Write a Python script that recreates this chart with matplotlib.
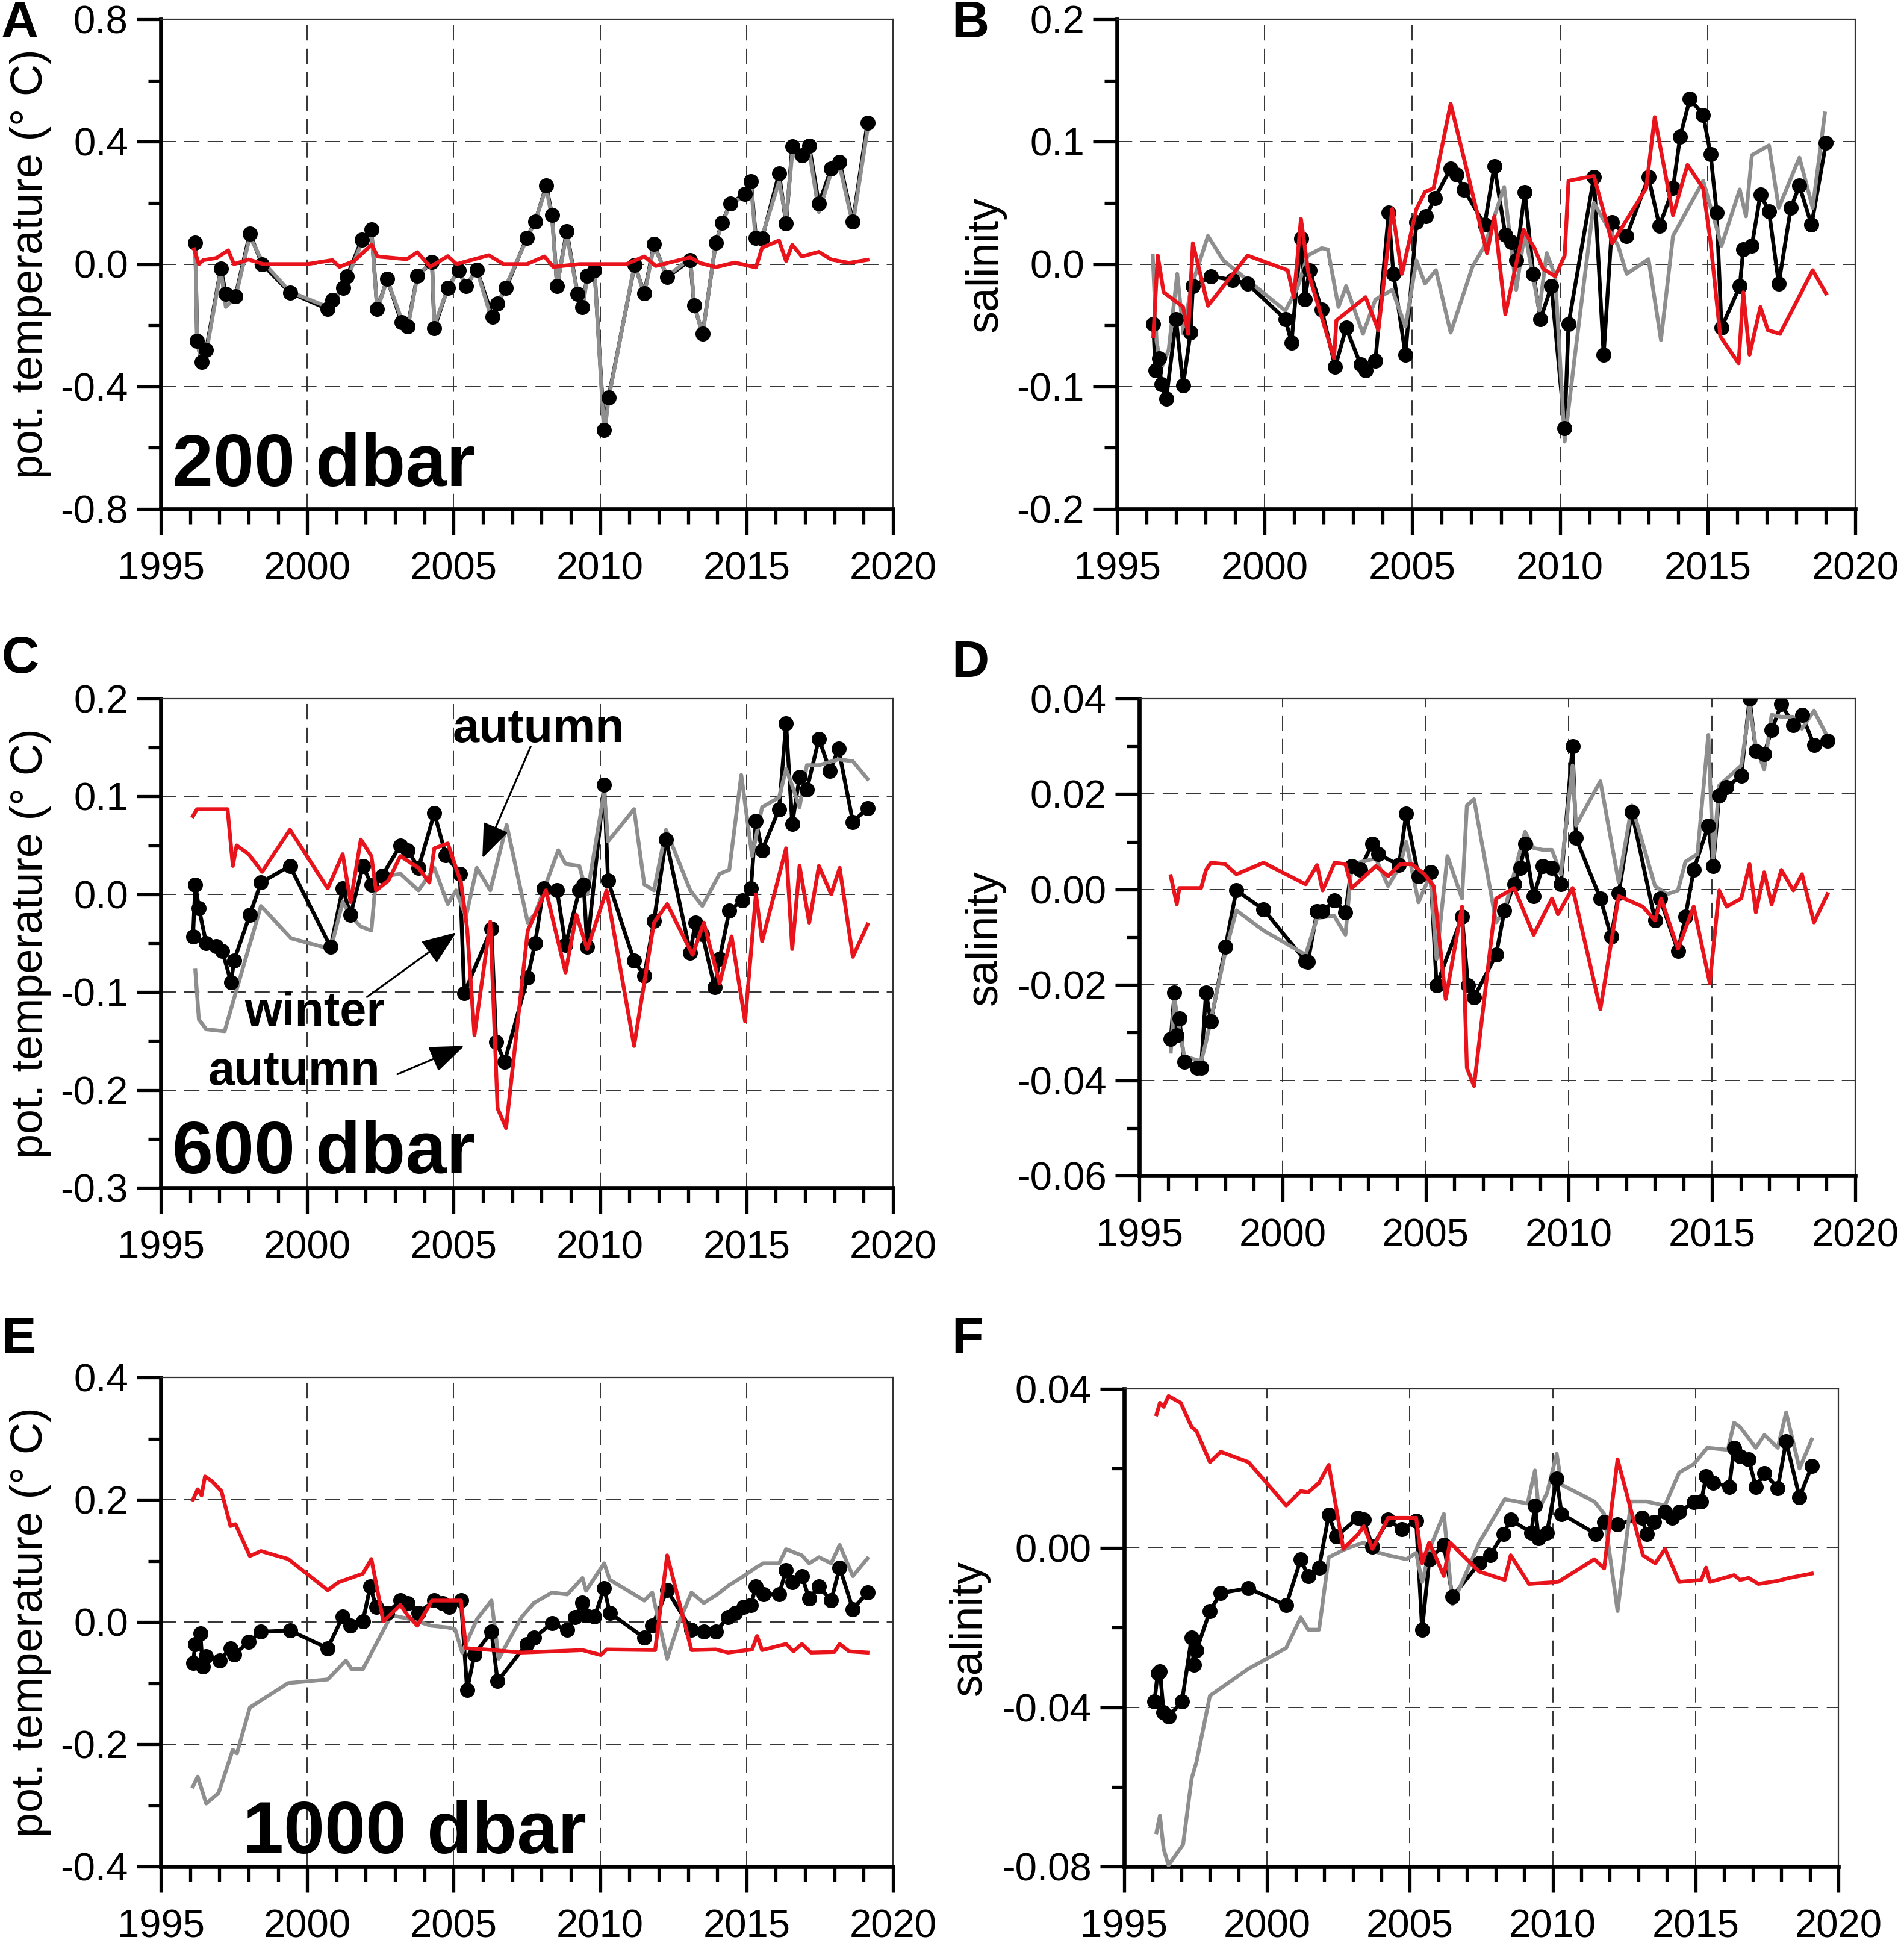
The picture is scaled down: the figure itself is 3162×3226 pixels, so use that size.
import matplotlib
matplotlib.use("Agg")
import matplotlib.pyplot as plt
import matplotlib.ticker as ticker

plt.rcParams['font.family'] = ['Liberation Sans', 'DejaVu Sans']

# ---------------- panel A : 200 dbar temperature ----------------
a_bk_x = [1996.18,1996.24,1996.39,1996.55,1997.05,1997.22,1997.55,1998.04,1998.46,1999.41,2000.70,2000.86,2001.23,2001.36,2001.86,2002.19,2002.39,2002.73,2003.22,2003.43,2003.76,2004.26,2004.34,2004.80,2005.17,2005.42,2005.79,2006.33,2006.50,2006.79,2007.49,2007.78,2008.16,2008.36,2008.53,2008.86,2009.23,2009.40,2009.56,2009.81,2010.14,2010.29,2011.18,2011.51,2011.84,2012.29,2013.08,2013.21,2013.50,2013.95,2014.16,2014.45,2014.95,2015.15,2015.32,2015.53,2016.11,2016.35,2016.56,2016.89,2017.14,2017.47,2017.89,2018.18,2018.63,2019.13]
a_bk_y = [0.07,-0.25,-0.32,-0.28,-0.015,-0.097,-0.105,0.10,0.00,-0.093,-0.147,-0.118,-0.078,-0.04,0.079,0.114,-0.147,-0.049,-0.19,-0.203,-0.038,0.006,-0.21,-0.078,-0.021,-0.072,-0.018,-0.172,-0.128,-0.078,0.085,0.138,0.256,0.16,-0.072,0.108,-0.097,-0.14,-0.038,-0.021,-0.542,-0.435,-0.003,-0.095,0.065,-0.043,0.013,-0.134,-0.228,0.07,0.135,0.198,0.23,0.271,0.085,0.083,0.296,0.133,0.384,0.355,0.386,0.198,0.311,0.334,0.139,0.462]
a_gr_x = a_bk_x
a_gr_y = [0.06,-0.26,-0.31,-0.29,-0.02,-0.14,-0.11,0.09,0.01,-0.09,-0.14,-0.12,-0.08,-0.05,0.07,0.11,-0.15,-0.05,-0.18,-0.21,-0.04,0.01,-0.2,-0.08,-0.02,-0.07,-0.02,-0.19,-0.13,-0.07,0.08,0.14,0.25,0.15,-0.07,0.1,-0.1,-0.15,-0.04,-0.02,-0.56,-0.44,0.0,-0.1,0.06,-0.04,0.02,-0.13,-0.23,0.07,0.13,0.2,0.22,0.26,0.07,0.09,0.27,0.15,0.36,0.34,0.37,0.17,0.3,0.32,0.13,0.44]
a_rd_x = [1996.14,1996.3,1996.45,1996.9,1997.3,1997.5,1998.0,1998.5,1999.4,2000.0,2000.86,2001.1,2001.6,2002.2,2002.4,2003.4,2003.76,2004.2,2004.8,2005.1,2006.2,2006.7,2007.5,2008.1,2008.4,2009.3,2010.0,2010.9,2011.51,2011.9,2013.08,2013.4,2013.95,2014.6,2015.32,2015.53,2016.11,2016.35,2016.56,2016.89,2017.47,2017.89,2018.5,2019.13]
a_rd_y = [0.048,0.0,0.013,0.02,0.045,0.0,0.015,0.0,0.0,0.0,0.013,-0.009,0.01,0.064,0.025,0.016,0.039,-0.009,0.026,0.0,0.029,0.0,0.0,0.025,-0.009,0.0,0.0,0.0,0.025,-0.006,0.022,0.004,-0.01,0.005,-0.011,0.054,0.077,0.010,0.063,0.025,0.04,0.015,0.004,0.014]

# ---------------- panel B : 200 dbar salinity ----------------
b_bk_x = [1996.23,1996.30,1996.42,1996.50,1996.67,1997.00,1997.24,1997.49,1997.57,1998.19,1998.91,1999.42,2000.70,2000.91,2001.23,2001.36,2001.52,2001.93,2002.39,2002.76,2003.25,2003.42,2003.75,2004.20,2004.36,2004.77,2005.14,2005.47,2005.76,2006.30,2006.50,2006.75,2007.45,2007.78,2008.15,2008.36,2008.52,2008.81,2009.10,2009.34,2009.71,2010.16,2010.29,2011.15,2011.48,2011.77,2012.26,2013.00,2013.37,2013.83,2014.07,2014.40,2014.85,2015.10,2015.31,2015.47,2016.09,2016.21,2016.50,2016.79,2017.08,2017.41,2017.82,2018.11,2018.52,2019.01]
b_bk_y = [-0.049,-0.087,-0.077,-0.098,-0.110,-0.045,-0.099,-0.056,-0.018,-0.010,-0.013,-0.016,-0.045,-0.064,0.021,-0.029,-0.005,-0.037,-0.084,-0.052,-0.082,-0.087,-0.079,0.042,-0.008,-0.074,0.034,0.039,0.054,0.078,0.073,0.061,0.032,0.080,0.024,0.018,0.003,0.059,-0.008,-0.045,-0.018,-0.134,-0.049,0.071,-0.074,0.034,0.023,0.071,0.031,0.062,0.104,0.135,0.122,0.090,0.042,-0.052,-0.018,0.012,0.015,0.057,0.043,-0.016,0.046,0.064,0.032,0.099]
b_gr_x = [1996.21,1996.34,1996.50,1996.75,1997.04,1997.25,1997.5,1998.08,1998.6,1999.42,2000.70,2001.1,2001.46,2001.93,2002.14,2002.5,2002.76,2003.33,2003.75,2004.32,2004.77,2005.14,2005.43,2005.8,2006.3,2007.04,2007.45,2008.11,2008.52,2008.81,2009.3,2009.55,2009.84,2010.16,2010.5,2011.15,2011.97,2012.26,2013.0,2013.42,2013.83,2014.85,2015.31,2015.47,2016.09,2016.3,2016.5,2017.08,2017.41,2018.11,2018.56,2018.97]
b_gr_y = [0.007,-0.063,-0.085,-0.07,-0.008,-0.057,-0.02,0.023,0.003,-0.013,-0.038,-0.02,0.007,0.013,0.012,-0.035,-0.018,-0.057,-0.029,-0.021,-0.051,0.003,-0.016,-0.005,-0.056,-0.002,0.015,0.063,-0.021,0.026,-0.038,0.009,-0.010,-0.145,-0.076,0.05,0.015,-0.008,0.004,-0.062,0.023,0.068,0.029,0.015,0.061,0.039,0.089,0.097,0.046,0.087,0.046,0.123]
b_rd_x = [1996.23,1996.38,1996.58,1997.24,1997.41,1997.57,1998.08,1999.42,2000.78,2000.99,2001.23,2001.48,2002.35,2002.43,2003.42,2003.85,2004.32,2004.65,2005.14,2005.43,2005.72,2006.30,2007.53,2007.78,2008.15,2008.77,2009.14,2009.43,2009.84,2010.16,2010.29,2011.15,2011.77,2012.92,2013.21,2013.83,2014.32,2014.85,2015.10,2015.43,2016.05,2016.21,2016.42,2016.79,2017.04,2017.45,2018.56,2019.01]
b_rd_y = [-0.059,0.007,-0.023,-0.035,-0.057,0.017,-0.034,0.007,-0.005,-0.027,0.037,-0.007,-0.077,-0.046,-0.027,-0.054,0.045,-0.008,0.045,0.059,0.062,0.131,0.009,0.039,-0.041,0.028,0.013,-0.004,-0.010,0.007,0.068,0.072,0.017,0.062,0.120,0.040,0.081,0.062,0.018,-0.059,-0.081,-0.023,-0.074,-0.035,-0.054,-0.057,-0.005,-0.024]

# ---------------- panel C : 600 dbar temperature ----------------
c_bk_x = [1996.10,1996.18,1996.30,1996.55,1996.90,1997.10,1997.40,1997.50,1998.04,1998.42,1999.41,2000.80,2001.21,2001.48,2001.90,2002.19,2002.56,2003.18,2003.43,2003.80,2004.34,2004.73,2005.21,2005.36,2006.29,2006.45,2006.74,2007.53,2007.78,2008.07,2008.53,2008.82,2009.29,2009.44,2009.56,2010.14,2010.27,2011.16,2011.51,2011.84,2012.25,2013.08,2013.25,2013.49,2013.91,2014.08,2014.41,2014.86,2015.15,2015.32,2015.53,2016.11,2016.35,2016.56,2016.81,2017.06,2017.47,2017.85,2018.14,2018.63,2019.13]
c_bk_y = [-0.043,0.010,-0.014,-0.050,-0.053,-0.058,-0.090,-0.068,-0.021,0.012,0.029,-0.054,0.006,-0.021,0.029,0.010,0.019,0.050,0.045,0.027,0.083,0.040,0.021,-0.101,-0.035,-0.151,-0.171,-0.085,-0.050,0.006,0.004,-0.052,0.004,0.010,-0.054,0.112,0.014,-0.068,-0.083,-0.027,0.056,-0.060,-0.029,-0.041,-0.095,-0.066,-0.017,-0.006,0.006,0.075,0.045,0.087,0.175,0.072,0.120,0.107,0.159,0.126,0.149,0.074,0.088]
c_gr_x = [1996.18,1996.30,1996.55,1997.18,1997.42,1998.42,1999.45,2000.80,2001.21,2001.48,2001.83,2002.19,2002.35,2003.18,2003.80,2004.34,2004.80,2005.08,2005.42,2005.79,2006.25,2006.81,2007.53,2007.78,2008.57,2008.82,2009.29,2009.56,2010.14,2010.27,2011.16,2011.51,2011.84,2012.25,2013.08,2013.49,2014.08,2014.41,2014.82,2015.19,2015.53,2016.11,2016.35,2016.56,2016.81,2017.06,2017.47,2018.14,2018.63,2019.13]
c_gr_y = [-0.078,-0.128,-0.138,-0.140,-0.115,-0.012,-0.045,-0.056,-0.008,-0.022,-0.033,-0.037,0.017,0.021,0.004,0.027,-0.010,0.004,-0.023,0.027,0.004,0.071,-0.029,-0.020,0.045,0.031,0.029,0.000,0.105,0.054,0.087,0.010,0.004,0.066,0.004,-0.012,0.021,0.025,0.122,0.039,0.089,0.099,0.128,0.111,0.089,0.132,0.132,0.138,0.136,0.118]
c_rd_x = [1996.10,1996.24,1997.28,1997.46,1997.59,1998.00,1998.46,1999.41,2000.70,2001.21,2001.48,2001.83,2002.19,2002.35,2002.77,2003.18,2003.80,2004.17,2004.34,2004.80,2005.25,2005.46,2005.71,2006.25,2006.50,2006.79,2007.53,2008.15,2008.82,2009.19,2009.56,2010.22,2011.16,2011.84,2012.29,2013.16,2013.54,2014.08,2014.49,2014.95,2015.32,2015.53,2016.35,2016.56,2016.81,2017.14,2017.47,2017.89,2018.18,2018.63,2019.13]
c_rd_y = [0.080,0.087,0.087,0.029,0.050,0.041,0.023,0.066,0.006,0.041,-0.008,0.056,0.039,0.004,0.014,0.039,0.027,0.012,0.047,0.052,0.012,-0.035,-0.144,-0.028,-0.219,-0.239,-0.037,0.004,-0.080,-0.021,-0.056,0.004,-0.155,-0.029,-0.010,-0.062,-0.029,-0.091,-0.043,-0.130,0.000,-0.048,0.047,-0.056,0.029,-0.029,0.029,0.000,0.027,-0.064,-0.031]

# ---------------- panel D : 600 dbar salinity ----------------
d_bk_x = [1996.10,1996.23,1996.31,1996.40,1996.57,1997.01,1997.16,1997.33,1997.50,1998.01,1998.39,1999.34,2000.81,2000.89,2001.21,2001.40,2001.82,2002.20,2002.42,2002.71,2003.14,2003.35,2004.07,2004.32,2004.75,2005.17,2005.38,2006.27,2006.48,2006.69,2007.46,2007.75,2008.09,2008.30,2008.47,2008.77,2009.09,2009.41,2009.72,2010.13,2010.25,2011.10,2011.48,2011.74,2012.20,2013.01,2013.18,2013.81,2014.07,2014.36,2014.87,2015.04,2015.25,2015.51,2016.02,2016.31,2016.53,2016.82,2017.08,2017.42,2017.84,2018.14,2018.56,2019.03]
d_bk_y = [-0.0313,-0.0216,-0.0306,-0.0271,-0.0361,-0.0374,-0.0374,-0.0216,-0.0277,-0.0120,-0.0002,-0.0042,-0.0150,-0.0152,-0.0046,-0.0046,-0.0023,-0.0048,0.0049,0.0042,0.0096,0.0074,0.0051,0.0159,0.0028,0.0036,-0.0201,-0.0057,-0.0201,-0.0226,-0.0137,-0.0044,0.0011,0.0045,0.0096,-0.0014,0.0049,0.0045,0.0011,0.0300,0.0108,-0.0019,-0.0099,-0.0008,0.0163,-0.0065,-0.0019,-0.0129,-0.0057,0.0041,0.0134,0.0049,0.0197,0.0214,0.0239,0.0400,0.0290,0.0284,0.0334,0.0389,0.0345,0.0366,0.0303,0.0311]
d_gr_x = [1996.10,1996.23,1996.57,1997.16,1997.33,1998.01,1998.39,1999.34,2000.81,2001.21,2001.80,2002.20,2002.42,2003.26,2003.69,2004.11,2004.32,2004.75,2005.17,2005.38,2005.76,2006.27,2006.44,2006.69,2007.46,2007.75,2008.47,2008.77,2009.09,2009.41,2009.72,2010.13,2010.25,2011.10,2011.74,2012.20,2013.01,2013.43,2013.81,2014.07,2014.49,2014.87,2015.04,2015.25,2016.02,2016.31,2016.53,2016.82,2017.08,2017.42,2017.84,2018.14,2018.56,2019.03]
d_gr_y = [-0.034,-0.023,-0.035,-0.036,-0.032,-0.013,-0.0044,-0.0086,-0.0137,-0.006,-0.0055,-0.0095,0.0053,0.0065,0.0007,0.005,0.010,-0.0027,0.0032,-0.0146,0.007,-0.0019,0.0176,0.0189,-0.0069,-0.0044,0.0121,0.0087,0.0083,0.0083,0.0032,0.026,0.0134,0.0227,0.0015,0.0176,0.0007,-0.001,-0.0002,0.0058,0.0074,0.0324,0.0066,0.0218,0.026,0.0383,0.030,0.0252,0.0366,0.0362,0.0362,0.0337,0.0375,0.032]
d_rd_x = [1996.10,1996.31,1996.40,1997.16,1997.33,1997.50,1998.0,1998.39,1999.34,2000.81,2001.21,2001.40,2001.82,2002.20,2002.42,2003.26,2003.69,2004.11,2004.53,2004.96,2005.28,2005.70,2006.27,2006.44,2006.69,2007.46,2008.09,2008.77,2009.41,2009.62,2010.13,2011.10,2011.74,2012.58,2013.01,2013.22,2013.81,2014.36,2014.92,2015.25,2015.51,2016.02,2016.31,2016.53,2016.82,2017.08,2017.42,2017.84,2018.14,2018.56,2019.03]
d_rd_y = [0.0028,-0.0031,0.0003,0.0003,0.0041,0.0056,0.0053,0.0032,0.0056,0.0011,0.0051,-0.0002,0.0056,0.0053,0.0003,0.0049,0.0028,0.0053,0.0053,0.0032,0.0007,-0.0230,-0.0036,-0.0374,-0.0412,-0.0019,0.0003,-0.0095,-0.0019,-0.0052,0.0003,-0.0251,-0.0014,-0.0036,-0.0065,-0.0019,-0.0124,-0.0036,-0.0196,-0.0002,-0.0036,-0.0019,0.0053,-0.0048,0.0036,-0.0031,0.0041,-0.0002,0.0032,-0.0069,-0.0010]

# ---------------- panel E : 1000 dbar temperature ----------------
e_bk_x = [1996.10,1996.18,1996.35,1996.43,1996.55,1997.01,1997.38,1997.51,1998.00,1998.42,1999.41,2000.70,2001.21,2001.48,2001.90,2002.15,2002.35,2002.73,2003.18,2003.43,2003.80,2004.34,2004.63,2004.84,2005.25,2005.46,2005.71,2006.29,2006.50,2007.49,2007.74,2008.36,2008.88,2009.15,2009.40,2009.52,2009.81,2010.14,2010.33,2011.51,2011.78,2012.29,2013.12,2013.54,2013.95,2014.37,2014.61,2014.90,2015.15,2015.32,2015.57,2016.11,2016.35,2016.56,2016.89,2017.14,2017.47,2017.89,2018.18,2018.63,2019.13]
e_bk_y = [-0.067,-0.036,-0.019,-0.073,-0.056,-0.063,-0.043,-0.053,-0.033,-0.016,-0.014,-0.043,0.009,-0.006,0.001,0.058,0.025,0.015,0.035,0.031,0.015,0.035,0.031,0.025,0.035,-0.111,-0.053,-0.016,-0.097,-0.036,-0.026,-0.002,-0.013,0.008,0.032,0.011,0.009,0.055,0.015,-0.026,-0.006,0.052,-0.013,-0.016,-0.016,0.008,0.015,0.025,0.028,0.058,0.045,0.045,0.085,0.065,0.075,0.038,0.058,0.035,0.089,0.021,0.048]
e_gr_x = [1996.10,1996.26,1996.55,1996.97,1997.46,1997.6,1998.04,1999.35,2000.70,2001.32,2001.52,2001.90,2002.87,2003.5,2004.22,2004.80,2005.05,2005.29,2005.8,2006.29,2006.54,2007.32,2007.74,2008.36,2008.88,2009.40,2009.52,2010.14,2010.33,2011.51,2011.78,2012.29,2012.7,2013.12,2013.54,2014.0,2014.4,2014.90,2015.32,2015.57,2016.11,2016.35,2016.89,2017.14,2017.47,2017.89,2018.18,2018.63,2019.13]
e_gr_y = [-0.269,-0.253,-0.297,-0.280,-0.209,-0.215,-0.140,-0.100,-0.094,-0.063,-0.077,-0.077,0.011,0.005,-0.006,-0.009,-0.012,-0.050,0.005,0.035,-0.060,0.008,0.031,0.048,0.045,0.072,0.051,0.096,0.069,0.035,0.048,-0.060,0.0,0.048,0.031,0.045,0.06,0.075,0.089,0.096,0.096,0.119,0.109,0.096,0.106,0.096,0.126,0.075,0.104]
e_rd_x = [1996.10,1996.26,1996.39,1996.51,1996.75,1997.07,1997.38,1997.55,1998.04,1998.42,1999.35,2000.70,2001.07,2001.90,2002.19,2002.60,2003.18,2003.43,2003.76,2004.26,2005.25,2005.42,2006.08,2007.32,2009.40,2010.02,2010.22,2011.88,2012.29,2013.12,2013.95,2014.37,2015.19,2015.36,2015.53,2016.35,2016.6,2016.89,2017.2,2018.0,2018.18,2018.5,2019.13]
e_rd_y = [0.200,0.217,0.207,0.238,0.230,0.214,0.157,0.160,0.108,0.116,0.103,0.052,0.065,0.079,0.103,0.001,0.028,0.011,-0.006,0.035,0.035,-0.043,-0.045,-0.050,-0.046,-0.054,-0.045,-0.046,0.109,-0.046,-0.045,-0.050,-0.045,-0.023,-0.046,-0.036,-0.048,-0.036,-0.050,-0.049,-0.036,-0.048,-0.050]

# ---------------- panel F : 1000 dbar salinity ----------------
f_bk_x = [1996.06,1996.17,1996.25,1996.38,1996.55,1997.02,1997.36,1997.44,1997.53,1998.00,1998.38,1999.35,2000.67,2001.18,2001.44,2001.82,2002.16,2002.42,2003.18,2003.39,2003.69,2004.24,2004.71,2005.22,2005.43,2005.68,2006.19,2006.49,2007.43,2007.81,2008.27,2008.53,2009.25,2009.38,2009.51,2009.80,2010.14,2010.31,2011.50,2011.80,2012.27,2013.12,2013.29,2013.54,2013.93,2014.18,2014.43,2014.94,2015.20,2015.37,2015.62,2016.18,2016.35,2016.56,2016.86,2017.11,2017.41,2017.88,2018.17,2018.64,2019.07]
f_bk_y = [-0.0386,-0.0314,-0.0309,-0.0412,-0.0423,-0.0386,-0.0225,-0.0293,-0.0257,-0.0158,-0.0113,-0.0101,-0.0144,-0.0028,-0.0070,-0.0049,0.0084,0.0029,0.0076,0.0071,0.0003,0.0071,0.0047,0.0068,-0.0205,-0.0028,0.0008,-0.0122,-0.0038,-0.0018,0.0036,0.0071,0.0039,0.0107,0.0024,0.0039,0.0175,0.0086,0.0036,0.0065,0.0060,0.0076,0.0036,0.0065,0.0091,0.0076,0.0091,0.0115,0.0117,0.0180,0.0164,0.0154,0.0252,0.0230,0.0223,0.0154,0.0188,0.0151,0.0268,0.0128,0.0206]
f_gr_x = [1996.13,1996.25,1996.38,1996.55,1997.06,1997.36,1997.53,1998.00,1999.35,2000.67,2001.18,2001.44,2001.82,2002.16,2002.75,2003.39,2003.69,2004.24,2004.88,2005.22,2005.43,2005.72,2006.19,2006.49,2007.43,2008.32,2009.12,2009.38,2009.51,2009.80,2010.14,2010.31,2011.46,2011.80,2012.27,2012.74,2013.29,2013.93,2014.43,2014.94,2015.41,2016.13,2016.35,2016.56,2017.11,2017.41,2017.88,2018.17,2018.64,2019.07]
f_gr_y = [-0.0714,-0.0672,-0.0756,-0.0797,-0.0745,-0.0579,-0.0537,-0.0371,-0.0303,-0.0251,-0.0174,-0.0205,-0.0205,-0.0023,-0.0002,0.0014,-0.0007,-0.0018,-0.0028,-0.0012,-0.0085,0.0003,0.0086,-0.0142,0.0014,0.0123,0.0112,0.0195,0.0097,0.0138,0.0237,0.0159,0.0117,0.0086,-0.0158,0.0117,0.0117,0.0107,0.0190,0.0211,0.0252,0.0247,0.0315,0.0304,0.0252,0.0284,0.0252,0.0341,0.0200,0.0273]
f_rd_x = [1996.13,1996.25,1996.38,1996.55,1996.98,1997.36,1997.53,1998.00,1998.38,1999.35,2000.67,2001.18,2001.44,2001.82,2002.16,2002.67,2003.18,2003.39,2003.69,2004.24,2005.22,2005.43,2005.68,2005.94,2006.19,2006.40,2007.43,2008.32,2008.53,2009.17,2010.19,2011.46,2011.80,2012.27,2013.16,2013.59,2013.93,2014.43,2015.20,2015.37,2015.50,2016.35,2016.56,2016.86,2017.20,2017.84,2018.28,2019.07]
f_rd_y = [0.0336,0.0365,0.0355,0.0382,0.0365,0.0304,0.0294,0.0216,0.0242,0.0216,0.0107,0.0143,0.0140,0.0164,0.0209,-0.0002,0.0034,0.0055,-0.0002,0.0076,0.0076,-0.0038,0.0014,-0.0028,-0.0070,0.0014,-0.0059,-0.0080,-0.0018,-0.0090,-0.0085,-0.0028,-0.0051,0.0223,-0.0018,-0.0038,-0.0002,-0.0085,-0.0080,-0.0049,-0.0085,-0.0068,-0.0080,-0.0075,-0.0090,-0.0083,-0.0075,-0.0064]

T_LABEL = "pot. temperature (° C)"
S_LABEL = "salinity"
RED = "#e8131b"
GRAY = "#8e8e8e"

W, H = 3162, 3226
fig = plt.figure(figsize=(W / 100, H / 100), dpi=100)


def px_axes(left, right, top, bottom):
    return fig.add_axes([left / W, 1 - bottom / H, (right - left) / W, (bottom - top) / H])


def panel(ax, bk, gr, rd, ylim, major, minor, fmt, ylabel, labx):
    ax.plot(bk[0], bk[1], color="black", lw=4.6, zorder=2)
    ax.plot(gr[0], gr[1], color=GRAY, lw=4.6, zorder=3)
    ax.plot(bk[0], bk[1], ls="none", marker="o", ms=17, color="black", zorder=4)
    ax.plot(rd[0], rd[1], color=RED, lw=4.6, zorder=5)

    ax.set_xlim(1995, 2020)
    ax.set_ylim(*ylim)
    ax.xaxis.set_major_locator(ticker.MultipleLocator(5))
    ax.xaxis.set_minor_locator(ticker.MultipleLocator(1))
    ax.yaxis.set_major_locator(ticker.MultipleLocator(major))
    ax.yaxis.set_minor_locator(ticker.MultipleLocator(minor))
    ax.yaxis.set_major_formatter(ticker.FormatStrFormatter(fmt))

    ax.tick_params(axis="x", which="major", direction="out", length=31, width=3.8,
                   labelsize=47, pad=20)
    ax.tick_params(axis="x", which="minor", direction="out", length=18, width=3.8)
    ax.tick_params(axis="y", which="major", direction="out", length=29, width=3.8,
                   labelsize=47, pad=10)
    ax.tick_params(axis="y", which="minor", direction="out", length=15, width=3.8)

    for s in ["left", "bottom"]:
        ax.spines[s].set_linewidth(4.8)
    for s in ["top", "right"]:
        ax.spines[s].set_linewidth(1.6)
        ax.spines[s].set_color("#333333")

    ax.grid(True, which="major", ls=(0, (13, 7)), color="#333333", lw=1.4)
    ax.set_axisbelow(True)

    ax.set_ylabel(ylabel, fontsize=53, va="center")
    ax.yaxis.set_label_coords(labx, 0.5)


axA = px_axes(267, 1483, 32, 845)
panel(axA, (a_bk_x, a_bk_y), (a_gr_x, a_gr_y), (a_rd_x, a_rd_y),
      (-0.8, 0.8), 0.4, 0.2, "%.1f", T_LABEL, -0.178)
axA.text(1995.4, -0.725, "200 dbar", fontsize=88, fontweight="bold", ha="left", va="baseline")

axB = px_axes(1855, 3081, 32, 845)
panel(axB, (b_bk_x, b_bk_y), (b_gr_x, b_gr_y), (b_rd_x, b_rd_y),
      (-0.2, 0.2), 0.1, 0.05, "%.1f", S_LABEL, -0.178)

axC = px_axes(267, 1483, 1160, 1972)
panel(axC, (c_bk_x, c_bk_y), (c_gr_x, c_gr_y), (c_rd_x, c_rd_y),
      (-0.3, 0.2), 0.1, 0.05, "%.1f", T_LABEL, -0.178)
axC.text(1995.4, -0.285, "600 dbar", fontsize=88, fontweight="bold", ha="left", va="baseline")

arrow = dict(arrowstyle="-|>,head_length=0.9,head_width=0.35", color="black",
             lw=2.2, mutation_scale=40, shrinkA=0, shrinkB=0)
axC.text(2007.9, 0.168, "autumn", fontsize=57, fontweight="bold", ha="center", va="center", zorder=6)
axC.annotate("", xy=(2005.98, 0.037), xytext=(2007.63, 0.151), arrowprops=arrow, zorder=6)
axC.text(2000.25, -0.122, "winter", fontsize=57, fontweight="bold", ha="center", va="center", zorder=6)
axC.annotate("", xy=(2005.09, -0.039), xytext=(2002.04, -0.105), arrowprops=arrow, zorder=6)
axC.text(1999.55, -0.182, "autumn", fontsize=57, fontweight="bold", ha="center", va="center", zorder=6)
axC.annotate("", xy=(2005.36, -0.155), xytext=(2003.08, -0.184), arrowprops=arrow, zorder=6)

axD = px_axes(1892, 3081, 1160, 1952)
panel(axD, (d_bk_x, d_bk_y), (d_gr_x, d_gr_y), (d_rd_x, d_rd_y),
      (-0.06, 0.04), 0.02, 0.01, "%.2f", S_LABEL, -0.216)

axE = px_axes(267, 1483, 2287, 3099)
panel(axE, (e_bk_x, e_bk_y), (e_gr_x, e_gr_y), (e_rd_x, e_rd_y),
      (-0.4, 0.4), 0.2, 0.1, "%.1f", T_LABEL, -0.178)
axE.text(1997.8, -0.378, "1000 dbar", fontsize=88, fontweight="bold", ha="left", va="baseline")

axF = px_axes(1867, 3053, 2306, 3099)
panel(axF, (f_bk_x, f_bk_y), (f_gr_x, f_gr_y), (f_rd_x, f_rd_y),
      (-0.08, 0.04), 0.04, 0.02, "%.2f", S_LABEL, -0.217)

for letter, x, y in [("A", 2, 0), ("B", 1580, 0), ("C", 2, 1055), ("D", 1580, 1062),
                     ("E", 2, 2185), ("F", 1580, 2185)]:
    fig.text(x / W, 1 - y / H, letter, fontsize=62, fontweight="bold", ha="left", va="top")

fig.savefig("out.png", dpi=100)
